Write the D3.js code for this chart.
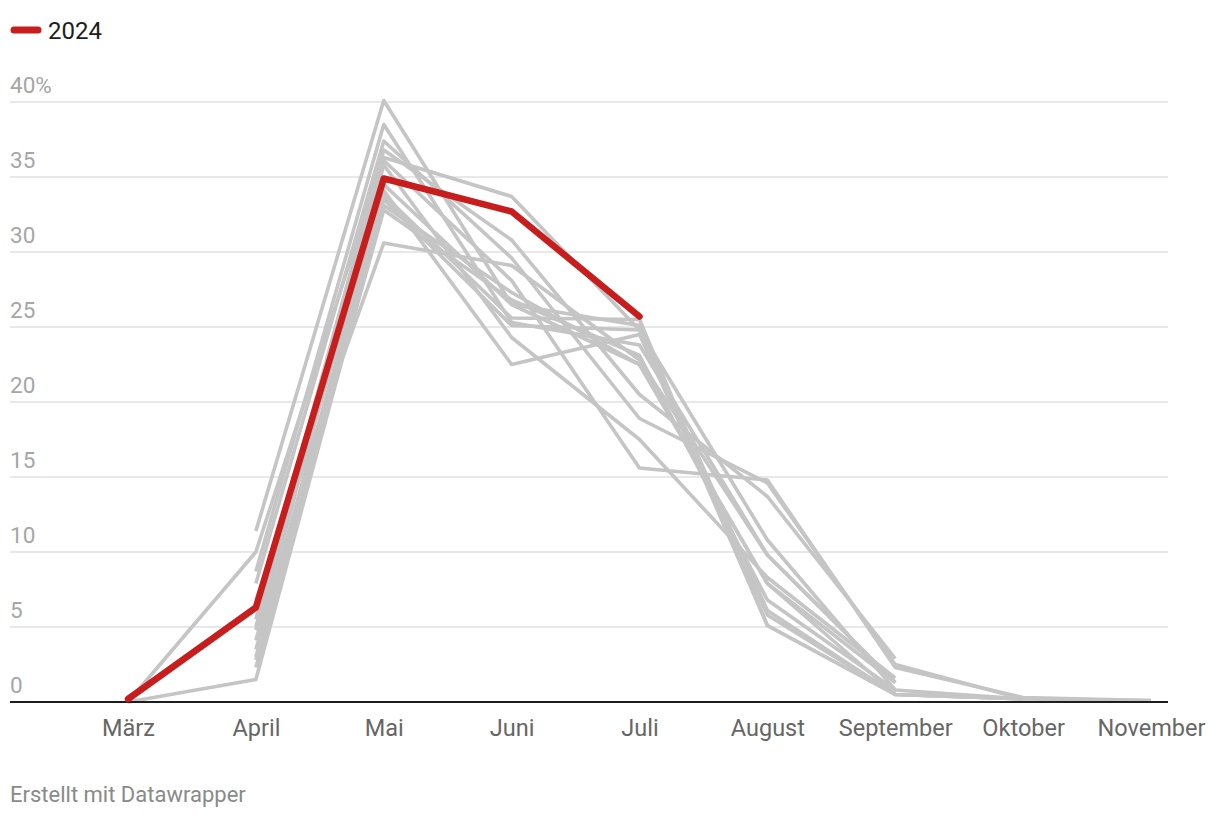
<!DOCTYPE html>
<html>
<head>
<meta charset="utf-8">
<script src="https://cdn.jsdelivr.net/npm/d3@7"></script>
<style>
  html, body { margin: 0; padding: 0; background: #fff; }
  svg { display: block; font-family: Roboto, "Noto Sans", sans-serif; }
</style>
</head>
<body>
<svg id="chart" width="1220" height="818"></svg>
<script>
// ---- data ----
const months = ["März", "April", "Mai", "Juni", "Juli", "August", "September", "Oktober", "November"];
const yTicks = [0, 5, 10, 15, 20, 25, 30, 35, 40];
const highlightName = "2024";
const highlightValues = [0.2, 6.3, 34.9, 32.7, 25.7, null, null, null, null];
// earlier years (grey)
const grey01 = [0, 10.0, 36.3, 33.7, 24.8, 10.8, 0.8, 0.2, 0.1];
const grey02 = [0, 1.5, 33.1, 27.3, 22.5, 7.9, 0.5, 0.2, null];
const grey03 = [null, 11.4, 40.1, 26.5, 25.1, 6.1, 0.5, null, null];
const grey04 = [null, 8.7, 38.5, 25.3, 23.8, 9.8, 1.3, null, null];
const grey05 = [null, 7.9, 37.4, 29.6, 18.9, 14.6, 2.5, 0.2, null];
const grey06 = [null, 5.5, 36.8, 30.8, 20.5, 13.7, 2.9, null, null];
const grey07 = [null, 4.8, 36.1, 28.1, 15.6, 14.8, 2.3, 0.3, 0.1];
const grey08 = [null, 4.1, 35.8, 24.3, 17.5, 8.3, 1.6, null, null];
const grey09 = [null, 3.5, 34.1, 22.5, 24.5, 5.8, 0.5, 0.2, null];
const grey10 = [null, 2.8, 33.8, 25.6, 25.5, 5.1, 0.5, null, null];
const grey11 = [null, 2.3, 32.8, 26.8, 23.1, 6.8, 0.8, null, null];
const grey12 = [null, 6.8, 30.6, 29.1, 22.8, 9.8, 1.3, null, null];
const grey13 = [null, 3.0, 33.5, 25.1, 24.8, 5.1, 0.5, 0.2, null];
const grey14 = [null, 5.0, 34.5, 26.5, 22.5, 7.9, 1.3, null, null];
const greySeries = [grey01, grey02, grey03, grey04, grey05, grey06, grey07,
                    grey08, grey09, grey10, grey11, grey12, grey13, grey14];

// ---- layout ----
const svg = d3.select("#chart");
const plotLeft = 10, plotRight = 1168, plotTop = 102, plotBottom = 702;

const x = d3.scalePoint().domain(months).range([128, 1151]);
const y = d3.scaleLinear().domain([0, 40]).range([plotBottom, plotTop]);

// grid lines + y labels
const grid = svg.append("g");
grid.selectAll("line").data(yTicks.filter(d => d !== 0)).join("line")
  .attr("x1", plotLeft).attr("x2", plotRight)
  .attr("y1", d => y(d)).attr("y2", d => y(d))
  .attr("stroke", "#e1e1e1").attr("stroke-width", 1.5);
grid.selectAll("text").data(yTicks).join("text")
  .attr("x", plotLeft).attr("y", d => y(d) - 9)
  .attr("fill", "#a6a6a6").attr("font-size", 22.5)
  .text(d => d === 40 ? d + "%" : d);

// x axis
const xAxis = d3.axisBottom(x).tickSize(0).tickPadding(0);
const gx = svg.append("g").attr("transform", `translate(0,${plotBottom})`).call(xAxis);
gx.select(".domain").remove();
gx.selectAll("text").attr("font-size", 23.5).attr("fill", "#666666")
  .attr("font-family", "Roboto, sans-serif").attr("dy", "1.43em");

// lines
const line = d3.line()
  .defined(d => d.v !== null)
  .x(d => x(d.m)).y(d => y(d.v));

const toPts = arr => arr.map((v, i) => ({ m: months[i], v }));

svg.append("g").selectAll("path").data(greySeries).join("path")
  .attr("d", s => line(toPts(s)))
  .attr("fill", "none").attr("stroke", "#c5c5c5")
  .attr("stroke-width", 3.6).attr("stroke-linejoin", "round");

// baseline
svg.append("line").attr("x1", plotLeft).attr("x2", plotRight)
  .attr("y1", plotBottom).attr("y2", plotBottom)
  .attr("stroke", "#1d1d1d").attr("stroke-width", 2);

svg.append("path")
  .attr("d", line(toPts(highlightValues)))
  .attr("fill", "none").attr("stroke", "#c71e1d")
  .attr("stroke-width", 6.5).attr("stroke-linejoin", "round").attr("stroke-linecap", "round");

// legend
const lg = svg.append("g");
lg.append("line").attr("x1", 14).attr("x2", 38).attr("y1", 30).attr("y2", 30)
  .attr("stroke", "#c71e1d").attr("stroke-width", 7).attr("stroke-linecap", "round");
lg.append("text").attr("x", 48).attr("y", 38.5)
  .attr("font-size", 24).attr("fill", "#1d1d1d").text(highlightName);

// footer
svg.append("text").attr("x", 10).attr("y", 802)
  .attr("font-size", 22).attr("fill", "#8a8a8a").text("Erstellt mit Datawrapper");
</script>
</body>
</html>
